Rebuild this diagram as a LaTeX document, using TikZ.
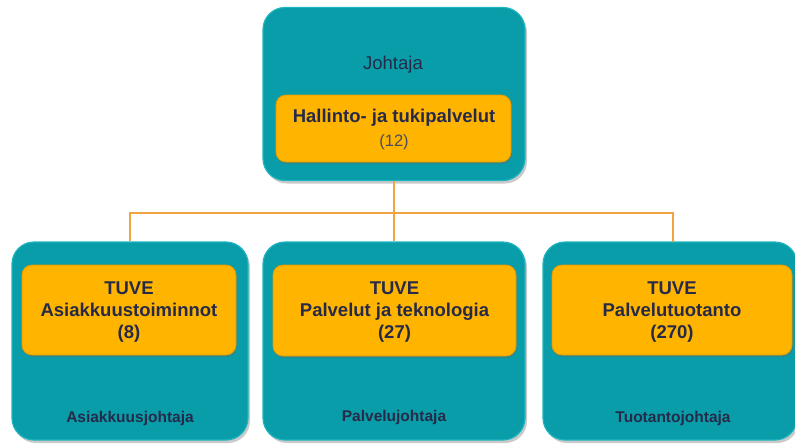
\documentclass[tikz,border=0pt]{standalone}
\usepackage{fontspec}
\setmainfont{Liberation Sans}
\usetikzlibrary{shadows}
\definecolor{tealbox}{HTML}{089DA9}
\definecolor{tealedge}{HTML}{1FB5C0}
\definecolor{orangebox}{HTML}{FFB400}
\definecolor{orangeedge}{HTML}{E89A00}
\definecolor{navytext}{HTML}{262A48}
\definecolor{graytext}{HTML}{4A4C5C}
\definecolor{linkorange}{HTML}{F2A444}
\tikzset{
  outerbox/.style={rectangle, rounded corners=22pt, fill=tealbox, draw=tealedge, line width=1.2pt,
    inner sep=0pt, drop shadow={shadow xshift=2pt, shadow yshift=-3pt, opacity=0.35, fill=black!60}},
  innerbox/.style={rectangle, rounded corners=10pt, fill=orangebox, draw=orangeedge, line width=0.8pt,
    inner sep=0pt, drop shadow={shadow xshift=1pt, shadow yshift=-2pt, opacity=0.35, fill=black!60}},
  boldtxt/.style={font=\fontsize{18.5}{22}\selectfont\bfseries, text=navytext, align=center, inner sep=0pt},
  regtxt/.style={font=\fontsize{18.5}{22}\selectfont, text=navytext, inner sep=0pt},
  numtxt/.style={font=\fontsize{16.5}{20}\selectfont, text=graytext, inner sep=0pt},
  foottxt/.style={font=\fontsize{15.5}{18}\selectfont\bfseries, text=navytext, inner sep=0pt},
  link/.style={draw=linkorange, line width=1.5pt}
}
\begin{document}
\begin{tikzpicture}[x=1pt,y=-1pt]
\useasboundingbox (0,0) rectangle (795,445);
% top unit
\node[outerbox, minimum width=262pt, minimum height=173pt] (top) at (394,94) {};
\node[innerbox, minimum width=235pt, minimum height=67pt] (topin) at (393.5,128.5) {};
\node[regtxt] (johtaja) at (393,65) {Johtaja};
\node[boldtxt] (hallinto) at (394,118) {Hallinto- ja tukipalvelut};
\node[numtxt] (n12) at (394,142) {(12)};
% lower units
\node[outerbox, minimum width=236pt, minimum height=198pt] (left) at (130,341) {};
\node[innerbox, minimum width=214pt, minimum height=90pt] (leftin) at (129,310) {};
\node[boldtxt] (lefttxt) at (129,312) {TUVE\\Asiakkuustoiminnot\\(8)};
\node[foottxt] (leftfoot) at (130,418) {Asiakkuusjohtaja};

\node[outerbox, minimum width=262pt, minimum height=198pt] (mid) at (394,341) {};
\node[innerbox, minimum width=243pt, minimum height=91pt] (midin) at (394.5,310.5) {};
\node[boldtxt] (midtxt) at (394.5,312) {TUVE\\Palvelut ja teknologia\\(27)};
\node[foottxt] (midfoot) at (394,417) {Palvelujohtaja};

\node[outerbox, minimum width=254pt, minimum height=198pt] (right) at (670,341) {};
\node[innerbox, minimum width=240pt, minimum height=90pt] (rightin) at (672,310) {};
\node[boldtxt] (righttxt) at (672,312) {TUVE\\Palvelutuotanto\\(270)};
\node[foottxt] (rightfoot) at (673,418) {Tuotantojohtaja};
% connectors
\coordinate (jn) at (394,213);
\coordinate (lefttop) at (left.north);
\coordinate (righttop) at (673,242);
\draw[link] (top.south) -- (jn);
\draw[link] (jn) -- (mid.north);
\draw[link] (jn) -| (lefttop);
\draw[link] (jn) -| (righttop);
\end{tikzpicture}
\end{document}
